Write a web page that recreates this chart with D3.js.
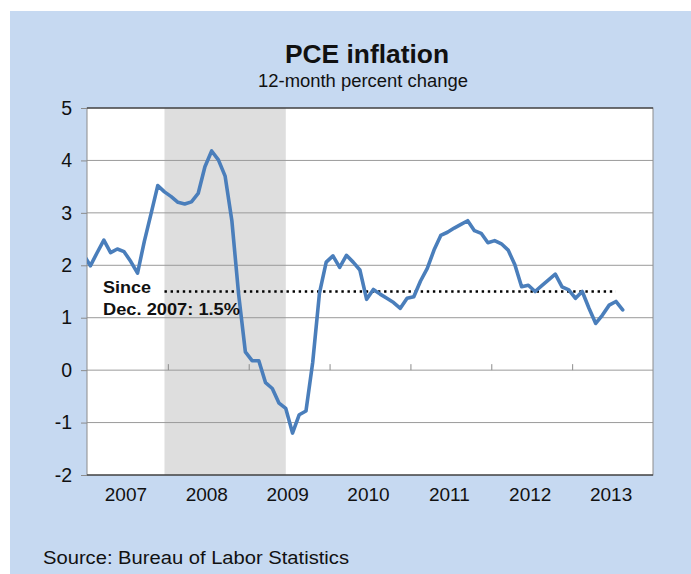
<!DOCTYPE html>
<html>
<head>
<meta charset="utf-8">
<script src="https://cdn.jsdelivr.net/npm/d3@7/dist/d3.min.js"></script>
<style>
  body { margin: 0; background: #fff; }
  svg text { font-family: Arial, 'Liberation Sans', sans-serif; fill: #111; }
</style>
</head>
<body>
<svg id="chart" width="691" height="574"></svg>
<script>
/* global d3 */
'use strict';

// monthly 12-month % change, Dec 2006 .. Aug 2013
var months = [
  '2006-12',
  '2007-01','2007-02','2007-03','2007-04','2007-05','2007-06','2007-07','2007-08','2007-09','2007-10','2007-11','2007-12',
  '2008-01','2008-02','2008-03','2008-04','2008-05','2008-06','2008-07','2008-08','2008-09','2008-10','2008-11','2008-12',
  '2009-01','2009-02','2009-03','2009-04','2009-05','2009-06','2009-07','2009-08','2009-09','2009-10','2009-11','2009-12',
  '2010-01','2010-02','2010-03','2010-04','2010-05','2010-06','2010-07','2010-08','2010-09','2010-10','2010-11','2010-12',
  '2011-01','2011-02','2011-03','2011-04','2011-05','2011-06','2011-07','2011-08','2011-09','2011-10','2011-11','2011-12',
  '2012-01','2012-02','2012-03','2012-04','2012-05','2012-06','2012-07','2012-08','2012-09','2012-10','2012-11','2012-12',
  '2013-01','2013-02','2013-03','2013-04','2013-05','2013-06','2013-07','2013-08'
];
var pce = [
  2.2,
  1.99, 2.24, 2.48, 2.24, 2.31, 2.26, 2.07, 1.85, 2.45, 2.98, 3.52, 3.40,
  3.31, 3.20, 3.17, 3.21, 3.37, 3.88, 4.18, 4.01, 3.70, 2.85, 1.45, 0.35,
  0.18, 0.18, -0.24, -0.35, -0.63, -0.73, -1.20, -0.85, -0.78, 0.15, 1.47, 2.06,
  2.18, 1.96, 2.19, 2.06, 1.91, 1.35, 1.54, 1.45, 1.37, 1.29, 1.18, 1.37,
  1.40, 1.70, 1.94, 2.29, 2.57, 2.63, 2.71, 2.78, 2.85, 2.66, 2.61, 2.43,
  2.47, 2.41, 2.29, 2.01, 1.59, 1.62, 1.50, 1.61, 1.72, 1.83, 1.59, 1.53,
  1.37, 1.50, 1.18, 0.89, 1.05, 1.24, 1.31, 1.15
];
var years = ['2007', '2008', '2009', '2010', '2011', '2012', '2013'];
var yTicks = [-2, -1, 0, 1, 2, 3, 4, 5];
var recession = ['2007-12', '2009-06'];
var sinceAvg = { from: '2007-12', to: '2013-07', value: 1.5 };
var sinceLabel = ['Since', 'Dec. 2007: 1.5%'];

var title = 'PCE inflation';
var subtitle = '12-month percent change';
var source = 'Source: Bureau of Labor Statistics';

// month string -> index, Jan 2007 = 0
function monthIndex(s) {
  var p = s.split('-');
  return (+p[0] - 2007) * 12 + (+p[1] - 1);
}

var plot = { left: 87, right: 653, top: 108, bottom: 475 };

var svg = d3.select('#chart');

svg.append('rect')
  .attr('x', 10).attr('y', 11)
  .attr('width', 681).attr('height', 563)
  .attr('fill', '#c6d9f1');

var x = d3.scaleLinear()
  .domain([-0.5, years.length * 12 - 0.5])
  .range([plot.left, plot.right]);

var y = d3.scaleLinear()
  .domain([-2, 5])
  .range([plot.bottom, plot.top]);

svg.append('defs').append('clipPath').attr('id', 'clip')
  .append('rect')
  .attr('x', plot.left).attr('y', plot.top)
  .attr('width', plot.right - plot.left)
  .attr('height', plot.bottom - plot.top);

svg.append('rect')
  .attr('x', plot.left).attr('y', plot.top)
  .attr('width', plot.right - plot.left)
  .attr('height', plot.bottom - plot.top)
  .attr('fill', '#fff');

// recession shading
svg.append('rect')
  .attr('x', x(monthIndex(recession[0])))
  .attr('y', plot.top)
  .attr('width', x(monthIndex(recession[1])) - x(monthIndex(recession[0])))
  .attr('height', plot.bottom - plot.top)
  .attr('fill', '#dedede');

// gridlines
svg.append('g').selectAll('line')
  .data(yTicks.filter(function(d) { return d > -2 && d < 5; }))
  .enter().append('line')
  .attr('x1', plot.left).attr('x2', plot.right)
  .attr('y1', function(d) { return y(d); })
  .attr('y2', function(d) { return y(d); })
  .attr('stroke', '#9a9a9a')
  .attr('stroke-width', 1);

// plot border
svg.append('rect')
  .attr('x', plot.left).attr('y', plot.top)
  .attr('width', plot.right - plot.left)
  .attr('height', plot.bottom - plot.top)
  .attr('fill', 'none')
  .attr('stroke', '#8c8c8c');
svg.append('line')
  .attr('x1', plot.left).attr('x2', plot.right)
  .attr('y1', plot.top).attr('y2', plot.top)
  .attr('stroke', '#1a1a1a');
svg.append('line')
  .attr('x1', plot.left).attr('x2', plot.right)
  .attr('y1', plot.bottom).attr('y2', plot.bottom)
  .attr('stroke', '#1a1a1a');

// y axis
var yAxis = svg.append('g')
  .attr('transform', 'translate(' + plot.left + ',0)')
  .call(d3.axisLeft(y).tickValues(yTicks).tickSize(6).tickPadding(9)
    .tickFormat(function(d) { return String(d); }));
yAxis.select('.domain').remove();
yAxis.selectAll('line').attr('stroke', '#8c8c8c');
yAxis.selectAll('text')
  .style('font-size', '19.5px')
  .attr('fill', '#111');

// year boundary ticks on the zero line
var boundaries = years.slice(1).map(function(d) { return monthIndex(d + '-01') - 0.5; });
var zeroAxis = svg.append('g')
  .attr('transform', 'translate(0,' + y(0) + ')')
  .call(d3.axisTop(x).tickValues(boundaries).tickSize(6).tickFormat(''));
zeroAxis.select('.domain').remove();
zeroAxis.selectAll('line').attr('stroke', '#8c8c8c');

// year labels
var xAxis = svg.append('g')
  .attr('transform', 'translate(-2,' + plot.bottom + ')')
  .call(d3.axisBottom(x)
    .tickValues(years.map(function(d) { return monthIndex(d + '-01') + 5.5; }))
    .tickSize(0).tickPadding(13)
    .tickFormat(function(d, i) { return years[i]; }));
xAxis.select('.domain').remove();
xAxis.selectAll('text')
  .style('font-size', '19px')
  .attr('fill', '#111');

// average since Dec 2007
svg.append('line')
  .attr('x1', x(monthIndex(sinceAvg.from)))
  .attr('x2', x(monthIndex(sinceAvg.to)))
  .attr('y1', y(sinceAvg.value))
  .attr('y2', y(sinceAvg.value))
  .attr('stroke', '#000')
  .attr('stroke-width', 2.4)
  .attr('stroke-dasharray', '2.4,3.7');

// the series
var series = months.map(function(m, i) { return { i: monthIndex(m), v: pce[i] }; });
var line = d3.line()
  .x(function(d) { return x(d.i); })
  .y(function(d) { return y(d.v); });

svg.append('path')
  .datum(series)
  .attr('clip-path', 'url(#clip)')
  .attr('d', line)
  .attr('fill', 'none')
  .attr('stroke', '#4a7ebb')
  .attr('stroke-width', 3.6)
  .attr('stroke-linejoin', 'round')
  .attr('stroke-linecap', 'round');

// annotation
svg.append('text')
  .attr('x', 103).attr('y', 292.5)
  .style('font-size', '17px').style('font-weight', 'bold')
  .attr('textLength', 48).attr('lengthAdjust', 'spacingAndGlyphs')
  .text(sinceLabel[0]);
svg.append('text')
  .attr('x', 103).attr('y', 314.5)
  .style('font-size', '17px').style('font-weight', 'bold')
  .attr('textLength', 137).attr('lengthAdjust', 'spacingAndGlyphs')
  .text(sinceLabel[1]);

// titles
svg.append('text')
  .attr('x', 367).attr('y', 62.5)
  .attr('text-anchor', 'middle')
  .style('font-size', '25px').style('font-weight', 'bold')
  .attr('textLength', 164).attr('lengthAdjust', 'spacingAndGlyphs')
  .text(title);
svg.append('text')
  .attr('x', 363).attr('y', 86.5)
  .attr('text-anchor', 'middle')
  .style('font-size', '17.5px')
  .attr('textLength', 210).attr('lengthAdjust', 'spacingAndGlyphs')
  .text(subtitle);

svg.append('text')
  .attr('x', 43).attr('y', 564)
  .style('font-size', '17.5px')
  .attr('textLength', 306).attr('lengthAdjust', 'spacingAndGlyphs')
  .text(source);
</script>
</body>
</html>
